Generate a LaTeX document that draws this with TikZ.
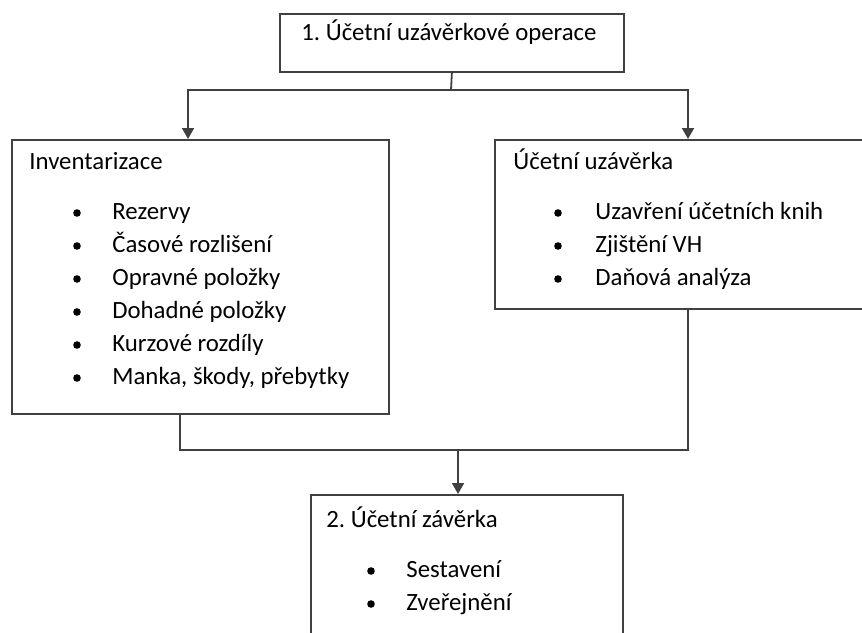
\documentclass[tikz,border=0pt]{standalone}
\usepackage{fontspec}
\setmainfont{Carlito}
\usetikzlibrary{arrows.meta}
\frenchspacing

\begin{document}
\begin{tikzpicture}[x=0.5pt, y=-0.5pt,
	font=\fontsize{12.4}{15}\selectfont,
	box/.style={draw=black!75, line width=0.9pt, anchor=north west, inner sep=0pt},
	txt/.style={anchor=base west, inner sep=0pt},
	dot/.style={circle, fill=black, inner sep=0pt, minimum size=3.8pt},
	link/.style={draw=black!75, line width=0.9pt},
	arr/.style={link, -{Triangle[width=6pt,length=5.5pt]}}]
	\useasboundingbox (0,0) rectangle (862,632);
	\clip (0,0) rectangle (862,632);
	\node (top) [box, minimum width=172pt, minimum height=29pt] at (279,13) {};
	\node (inv) [box, minimum width=188.5pt, minimum height=137pt] at (11,139) {};
	\node (uz) [box, minimum width=190pt, minimum height=84.5pt] at (494,139) {};
	\node (zav) [box, minimum width=156pt, minimum height=80pt] at (310,494) {};
	\node (toptxt) [txt] at (301,40) {1. Účetní uzávěrkové operace};
	\node (invtxt) [txt] at (29,169) {Inventarizace};
	\node (uztxt) [txt] at (513,169) {Účetní uzávěrka};
	\node (zavtxt) [txt] at (326,527) {2. Účetní závěrka};
	\foreach \t [count=\i] in {Rezervy, Časové rozlišení, Opravné položky, Dohadné položky, Kurzové rozdíly, {Manka, škody, přebytky}} {
		\node (invd\i) [dot] at (77,180+33*\i) {};
		\node (invt\i) [txt] at (112,186+33*\i) {\t};
	}
	\foreach \t [count=\i] in {Uzavření účetních knih, Zjištění VH, Daňová analýza} {
		\node (uzd\i) [dot] at (558,180+33*\i) {};
		\node (uzt\i) [txt] at (595,186+33*\i) {\t};
	}
	\foreach \t [count=\i] in {Sestavení, Zveřejnění} {
		\node (zavd\i) [dot] at (371,538+33*\i) {};
		\node (zavt\i) [txt] at (406,544+33*\i) {\t};
	}
	\coordinate (fork) at (451,90);
	\coordinate (invin) at (188,139);
	\coordinate (uzin) at (688,139);
	\coordinate (invout) at (180,413);
	\coordinate (uzout) at (688,308);
	\coordinate (join) at (458,450);
	\coordinate (zavin) at (458,494);
	\draw[link] (top.south) -- (fork);
	\draw[arr] (fork) -| (invin);
	\draw[arr] (fork) -| (uzin);
	\draw[link] (invout) |- (join);
	\draw[link] (uzout) |- (join);
	\draw[arr] (join) -- (zavin);
\end{tikzpicture}
\end{document}
